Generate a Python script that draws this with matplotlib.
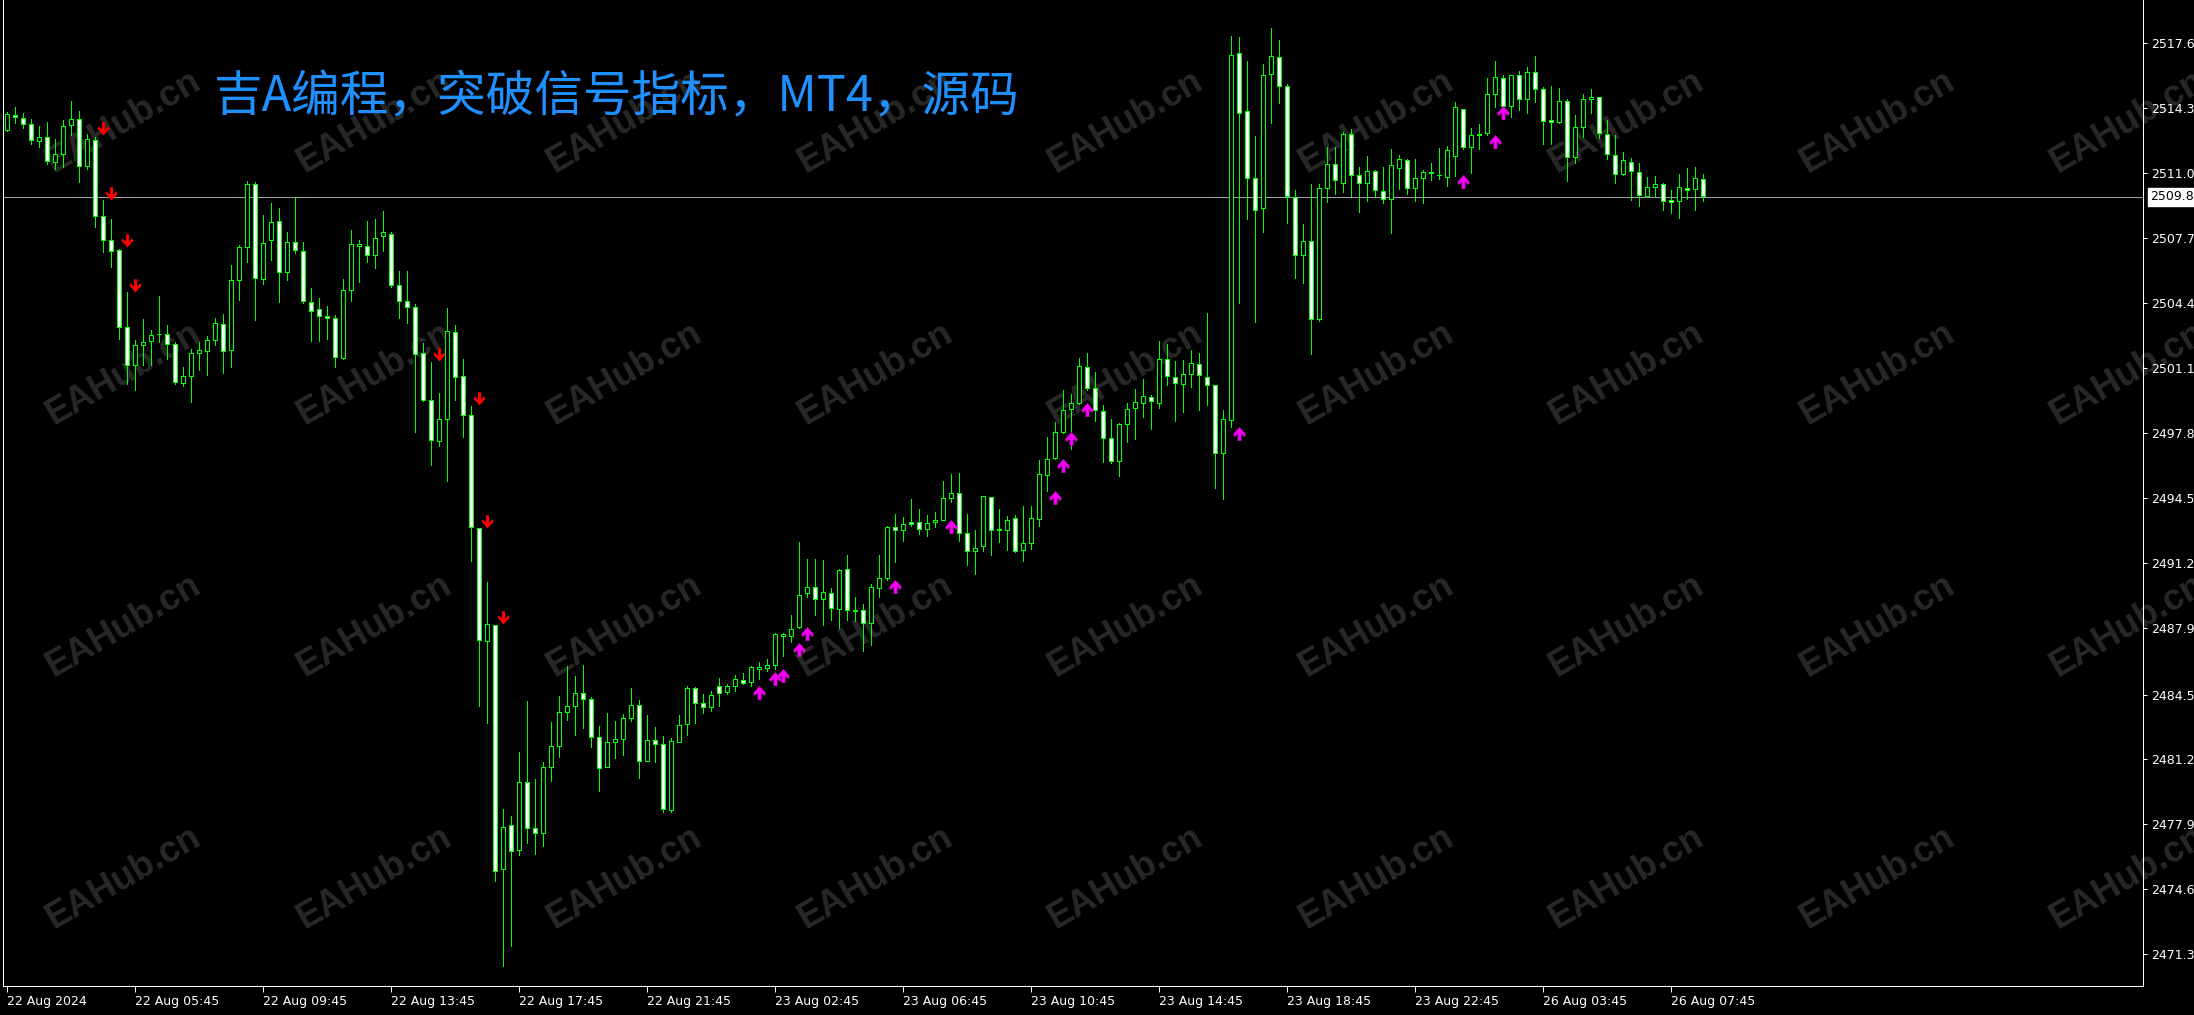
import matplotlib
matplotlib.use('Agg')
import matplotlib.pyplot as plt
import matplotlib.transforms as mtransforms
from matplotlib.path import Path
from matplotlib import font_manager
import numpy as np

# 15 minute candles, XAUUSD-like
opens = [2513.19, 2513.94, 2513.82, 2513.53, 2512.65, 2512.82, 2511.58, 2512.00, 2513.48, 2513.74,
         2511.38, 2512.68, 2508.85, 2507.59, 2507.09, 2503.18, 2501.23, 2502.28, 2502.47, 2502.82,
         2502.81, 2502.33, 2500.33, 2500.67, 2501.87, 2501.94, 2502.54, 2503.35, 2501.99, 2505.56,
         2507.26, 2510.43, 2505.64, 2507.63, 2508.58, 2505.98, 2507.51, 2507.05, 2504.45, 2504.11,
         2503.76, 2503.66, 2501.62, 2505.05, 2507.32, 2507.32, 2506.86, 2507.79, 2507.92, 2505.32,
         2504.49, 2504.21, 2501.87, 2499.48, 2497.38, 2498.52, 2502.91, 2500.70, 2498.70, 2492.96,
         2487.20, 2488.03, 2475.64, 2477.85, 2476.58, 2480.06, 2477.71, 2477.45, 2480.79, 2481.86,
         2483.59, 2483.90, 2484.57, 2484.27, 2482.32, 2480.79, 2482.10, 2482.23, 2483.29, 2483.96,
         2481.10, 2482.18, 2481.98, 2478.62, 2482.11, 2483.00, 2484.83, 2484.05, 2483.88, 2484.91,
         2484.61, 2484.91, 2485.25, 2485.12, 2485.80, 2485.83, 2486.00, 2487.49, 2487.49, 2487.92,
         2489.65, 2489.95, 2489.36, 2489.65, 2488.85, 2490.88, 2488.80, 2488.80, 2488.14, 2489.92,
         2490.43, 2493.01, 2492.87, 2493.26, 2493.26, 2492.92, 2493.26, 2493.38, 2494.50, 2494.75,
         2492.72, 2491.79, 2492.04, 2494.53, 2492.87, 2492.87, 2493.48, 2491.85, 2492.20, 2493.43,
         2495.67, 2496.53, 2497.84, 2499.03, 2499.30, 2501.15, 2500.08, 2498.91, 2497.55, 2496.35,
         2498.26, 2499.08, 2499.33, 2499.62, 2499.33, 2501.57, 2500.64, 2500.30, 2500.81, 2501.32,
         2500.64, 2500.25, 2496.79, 2498.48, 2517.09, 2514.16, 2510.78, 2509.21, 2516.03, 2516.89,
         2515.43, 2509.77, 2506.83, 2507.54, 2503.61, 2510.27, 2511.45, 2510.53, 2513.02, 2510.90,
         2510.53, 2511.12, 2510.11, 2509.71, 2511.29, 2511.70, 2510.27, 2510.78, 2511.00, 2510.89,
         2510.82, 2511.89, 2514.26, 2512.34, 2512.97, 2513.07, 2515.01, 2515.82, 2514.43, 2515.99,
         2514.80, 2516.13, 2515.31, 2513.70, 2513.60, 2514.65, 2511.85, 2513.33, 2514.77, 2514.90,
         2513.02, 2511.95, 2510.98, 2511.58, 2511.07, 2509.85, 2510.31, 2510.48, 2509.63, 2509.60,
         2510.27, 2510.19, 2510.73]
highs = [2514.13, 2514.38, 2514.04, 2513.74, 2513.40, 2513.60, 2512.73, 2513.70, 2514.67, 2514.16,
         2513.02, 2512.85, 2509.63, 2508.70, 2507.17, 2504.97, 2502.54, 2503.61, 2503.05, 2504.74,
         2503.27, 2502.42, 2501.15, 2502.08, 2502.42, 2502.71, 2503.64, 2503.86, 2506.32, 2507.34,
         2510.60, 2510.56, 2508.87, 2509.51, 2509.25, 2508.02, 2509.80, 2507.51, 2505.19, 2504.68,
         2504.24, 2503.78, 2505.64, 2508.10, 2507.63, 2508.57, 2508.67, 2509.09, 2508.00, 2506.03,
         2506.03, 2504.34, 2502.39, 2501.43, 2499.85, 2504.16, 2503.30, 2501.56, 2499.17, 2492.96,
         2490.24, 2488.03, 2478.66, 2478.32, 2481.57, 2484.16, 2480.20, 2481.05, 2483.12, 2484.44,
         2485.97, 2485.46, 2486.02, 2484.39, 2482.91, 2483.56, 2483.17, 2483.51, 2484.83, 2484.24,
         2483.47, 2482.86, 2482.40, 2482.27, 2483.47, 2484.95, 2484.86, 2484.52, 2484.69, 2485.34,
         2485.03, 2485.51, 2485.59, 2485.97, 2486.14, 2486.31, 2487.63, 2487.61, 2488.56, 2492.24,
         2491.39, 2491.39, 2491.34, 2489.92, 2490.88, 2491.60, 2489.48, 2489.11, 2490.12, 2491.60,
         2493.09, 2493.68, 2493.51, 2494.45, 2493.94, 2493.65, 2493.77, 2495.33, 2495.72, 2495.77,
         2493.68, 2492.84, 2494.57, 2494.53, 2493.94, 2493.60, 2493.65, 2494.06, 2494.06, 2496.40,
         2497.59, 2498.38, 2499.96, 2499.79, 2501.62, 2501.86, 2500.89, 2499.23, 2498.52, 2498.30,
         2499.30, 2500.04, 2500.55, 2499.71, 2502.45, 2502.30, 2501.44, 2501.49, 2502.00, 2501.88,
         2503.91, 2500.25, 2498.94, 2517.98, 2517.91, 2516.72, 2512.89, 2516.55, 2518.37, 2517.77,
         2515.53, 2510.17, 2508.41, 2510.48, 2510.44, 2512.34, 2512.34, 2513.11, 2513.23, 2511.33,
         2511.87, 2511.19, 2511.32, 2512.22, 2511.92, 2511.75, 2511.72, 2511.16, 2511.50, 2512.29,
         2512.38, 2514.62, 2514.26, 2513.28, 2513.53, 2515.86, 2516.70, 2515.99, 2515.99, 2516.20,
         2516.38, 2516.96, 2515.40, 2515.43, 2515.36, 2514.80, 2513.94, 2515.02, 2515.31, 2514.90,
         2513.70, 2512.97, 2512.06, 2511.80, 2511.50, 2510.82, 2510.85, 2510.53, 2510.14, 2510.95,
         2511.27, 2511.32, 2510.95]
lows = [2513.16, 2513.57, 2513.28, 2512.51, 2512.34, 2511.45, 2511.24, 2511.33, 2512.94, 2510.56,
        2511.24, 2508.27, 2507.00, 2506.24, 2502.59, 2500.30, 2499.99, 2501.23, 2501.23, 2502.42,
        2501.57, 2500.30, 2500.21, 2499.37, 2500.98, 2500.72, 2502.28, 2500.86, 2501.15, 2504.54,
        2506.49, 2503.55, 2505.39, 2506.61, 2504.46, 2505.56, 2506.95, 2504.40, 2502.47, 2502.45,
        2502.59, 2501.15, 2501.57, 2504.51, 2505.47, 2506.49, 2506.18, 2507.06, 2505.20, 2503.64,
        2503.38, 2497.85, 2499.43, 2496.19, 2497.15, 2495.33, 2499.48, 2497.61, 2491.28, 2483.90,
        2483.07, 2475.02, 2470.71, 2471.70, 2476.32, 2476.94, 2476.37, 2476.80, 2480.08, 2481.34,
        2483.20, 2482.45, 2482.78, 2481.81, 2479.61, 2480.79, 2481.27, 2481.44, 2483.17, 2480.28,
        2481.10, 2481.05, 2478.55, 2478.55, 2482.06, 2482.45, 2483.03, 2483.54, 2483.68, 2483.93,
        2484.52, 2484.66, 2485.03, 2484.91, 2485.29, 2485.71, 2485.80, 2486.47, 2487.15, 2487.88,
        2489.48, 2488.56, 2488.05, 2488.29, 2487.88, 2488.29, 2488.26, 2486.70, 2487.03, 2489.48,
        2490.33, 2491.22, 2492.28, 2493.09, 2492.67, 2492.58, 2493.01, 2493.35, 2494.31, 2492.33,
        2491.06, 2490.63, 2491.82, 2491.60, 2492.24, 2491.87, 2491.73, 2491.30, 2491.90, 2493.09,
        2494.87, 2496.48, 2497.79, 2496.99, 2499.25, 2499.96, 2498.43, 2496.31, 2496.28, 2495.63,
        2497.33, 2497.50, 2498.60, 2498.01, 2499.08, 2500.22, 2498.43, 2498.86, 2500.13, 2498.94,
        2499.23, 2495.01, 2494.45, 2498.09, 2504.41, 2508.66, 2503.44, 2508.02, 2513.57, 2514.55,
        2508.48, 2505.69, 2505.42, 2501.83, 2503.49, 2509.55, 2509.93, 2510.05, 2509.85, 2509.04,
        2509.58, 2509.80, 2509.49, 2507.97, 2510.22, 2509.94, 2509.60, 2509.49, 2510.68, 2510.73,
        2510.36, 2510.87, 2512.21, 2511.02, 2512.21, 2512.94, 2514.38, 2514.38, 2513.84, 2514.24,
        2514.04, 2514.63, 2512.51, 2512.51, 2513.57, 2510.61, 2511.50, 2512.85, 2514.04, 2512.80,
        2511.75, 2510.51, 2510.90, 2509.66, 2509.34, 2509.80, 2509.77, 2509.12, 2508.99, 2508.73,
        2509.71, 2509.12, 2509.58]
closes = [2513.99, 2513.84, 2513.53, 2512.68, 2512.82, 2511.61, 2512.00, 2513.41, 2513.74, 2511.36,
          2512.72, 2508.85, 2507.63, 2507.05, 2503.18, 2501.23, 2502.28, 2502.42, 2502.79, 2502.84,
          2502.33, 2500.38, 2500.67, 2501.87, 2501.99, 2502.54, 2503.40, 2501.94, 2505.59, 2507.26,
          2510.43, 2505.69, 2507.48, 2508.53, 2506.00, 2507.51, 2507.12, 2504.49, 2504.00, 2503.72,
          2503.66, 2501.65, 2505.08, 2507.39, 2507.42, 2506.86, 2507.71, 2508.00, 2505.32, 2504.52,
          2504.21, 2501.82, 2499.48, 2497.46, 2498.52, 2502.99, 2500.65, 2498.70, 2493.04, 2487.28,
          2488.06, 2475.54, 2477.75, 2476.55, 2480.06, 2477.72, 2477.45, 2480.83, 2481.90, 2483.62,
          2483.93, 2484.57, 2484.27, 2482.32, 2480.76, 2482.10, 2482.23, 2483.30, 2483.96, 2481.10,
          2482.18, 2481.98, 2478.67, 2482.15, 2482.95, 2484.83, 2484.07, 2483.88, 2484.47, 2484.57,
          2484.91, 2485.29, 2485.08, 2485.88, 2485.88, 2486.00, 2487.58, 2487.58, 2487.83, 2489.56,
          2489.95, 2489.36, 2489.70, 2488.88, 2490.83, 2488.82, 2488.77, 2488.14, 2489.95, 2490.43,
          2493.01, 2492.84, 2493.18, 2493.18, 2492.92, 2493.21, 2493.38, 2494.50, 2494.75, 2492.70,
          2491.79, 2491.95, 2494.57, 2492.87, 2492.89, 2493.38, 2491.82, 2492.20, 2493.48, 2495.72,
          2496.48, 2497.84, 2498.98, 2499.30, 2501.20, 2500.10, 2498.94, 2497.55, 2496.35, 2498.26,
          2499.03, 2499.37, 2499.69, 2499.40, 2501.57, 2500.67, 2500.35, 2500.81, 2501.37, 2500.72,
          2500.25, 2496.79, 2498.52, 2517.01, 2514.09, 2510.78, 2509.15, 2515.99, 2516.96, 2515.43,
          2509.83, 2506.83, 2507.54, 2503.61, 2510.27, 2511.45, 2510.65, 2513.02, 2510.90, 2510.53,
          2511.12, 2510.14, 2509.71, 2511.44, 2511.75, 2510.27, 2510.78, 2511.09, 2511.04, 2510.92,
          2512.17, 2514.35, 2512.34, 2512.97, 2513.01, 2515.01, 2515.87, 2514.43, 2515.99, 2514.80,
          2516.13, 2515.26, 2513.68, 2513.60, 2514.65, 2511.85, 2513.33, 2514.80, 2514.90, 2513.07,
          2511.97, 2510.98, 2511.67, 2511.11, 2509.89, 2510.31, 2510.43, 2509.58, 2509.55, 2510.31,
          2510.17, 2510.78, 2509.83]

# breakout signals: bar index and arrow tip price
down_bars = [12, 13, 15, 16, 54, 59, 60, 62]
down_tips = [2512.94, 2509.66, 2507.26, 2504.97, 2501.48, 2499.22, 2492.99, 2488.11]
up_bars = [94, 96, 97, 99, 100, 111, 118, 131, 132, 133, 135, 154, 182, 186, 187]
up_tips = [2484.91, 2485.63, 2485.80, 2487.10, 2487.92, 2490.33, 2493.35, 2494.84,
           2496.48, 2497.84, 2499.32, 2498.09, 2510.90, 2512.97, 2514.41]

price_ticks = [2517.6, 2514.3, 2511.0, 2507.7, 2504.4, 2501.1, 2497.8, 2494.5,
               2491.2, 2487.9, 2484.5, 2481.2, 2477.9, 2474.6, 2471.3]
time_tick_bars = [0, 16, 32, 48, 64, 80, 96, 112, 128, 144, 160, 176, 192, 208]
time_labels = ['22 Aug 2024', '22 Aug 05:45', '22 Aug 09:45', '22 Aug 13:45', '22 Aug 17:45',
               '22 Aug 21:45', '23 Aug 02:45', '23 Aug 06:45', '23 Aug 10:45', '23 Aug 14:45',
               '23 Aug 18:45', '23 Aug 22:45', '26 Aug 03:45', '26 Aug 07:45']
last_price = 2509.8
title = '吉A编程，突破信号指标，MT4，源码'

W, H = 2194, 1015
px = 72 / 100  # one pixel in points

fig = plt.figure(figsize=(W / 100, H / 100), dpi=100, facecolor='black')
ax = fig.add_axes([3 / W, 1 - 986 / H, (2143 - 3) / W, 986 / H])
ax.set_facecolor('black')

x = np.arange(len(opens))
o = np.array(opens)
hi = np.array(highs)
lo = np.array(lows)
c = np.array(closes)
bull = c >= o

ax.vlines(x, lo, hi, color='#00ff00', lw=px, zorder=3, antialiased=False)
ax.bar(x, np.abs(c - o), bottom=np.minimum(o, c), width=0.55,
       color=np.where(bull, 'black', 'white'), edgecolor='#00ff00',
       linewidth=px, zorder=4, antialiased=False)

ax.axhline(last_price, color='#9ea3ad', lw=px, zorder=2)

# arrow markers, tip at the data point
dn = Path([(-0.12, 1.0), (0.12, 1.0), (0.12, 0.45), (0.36, 0.68), (0.46, 0.52), (0, 0.0),
           (-0.46, 0.52), (-0.36, 0.68), (-0.12, 0.45), (-0.12, 1.0)])
upp = Path([(vx, -vy) for vx, vy in dn.vertices])
ax.plot(down_bars, down_tips, ls='none', marker=dn, markersize=19,
        color='#ff0000', mec='#ff0000', mew=0, zorder=5)
ax.plot(up_bars, up_tips, ls='none', marker=upp, markersize=19,
        color='#ff00ff', mec='#c000c0', mew=0.5, zorder=5)

ax.set_xlim(-0.5, 267)
ax.set_ylim(2469.68, 2519.81)

for side in ['left', 'right', 'bottom']:
    ax.spines[side].set_color('white')
    ax.spines[side].set_linewidth(px)
ax.spines['top'].set_visible(False)

ax.yaxis.tick_right()
ax.set_yticks(price_ticks)
ax.set_yticklabels(['%.1f' % v for v in price_ticks])
ax.tick_params(axis='y', colors='white', length=4 * px, width=px, labelsize=9, pad=3)

names = {f.name for f in font_manager.fontManager.ttflist}
if 'Liberation Sans Narrow' in names:
    xfont, xsize = 'Liberation Sans Narrow', 11.5
else:
    xfont, xsize = 'DejaVu Sans', 9
ax.set_xticks(time_tick_bars)
ax.set_xticklabels(time_labels, ha='left', family=xfont, fontsize=xsize)
ax.tick_params(axis='x', colors='white', length=6 * px, width=px, pad=2)

trans = mtransforms.blended_transform_factory(ax.transAxes, ax.transData)
ax.text(1.0035, last_price, '%.1f' % last_price, transform=trans, ha='left', va='center',
        fontsize=9, color='black', clip_on=False, zorder=6,
        bbox=dict(boxstyle='square,pad=0.2', fc='white', ec='white'))

# watermark grid
for cx in [124 + 250.5 * k for k in range(9)]:
    for cy in [122, 374, 626, 878]:
        ax.text(cx / W, 1 - cy / H, 'EAHub.cn', transform=fig.transFigure, rotation=30,
                rotation_mode='anchor', ha='center', va='center', fontsize=26,
                fontweight='bold', family=['Liberation Sans', 'DejaVu Sans'],
                color='#282828', zorder=1, clip_on=False)

fig.text(214 / W, 1 - 98 / H, title, fontsize=35, color='#1e90ff',
         family=['Noto Sans CJK SC', 'DejaVu Sans'], ha='left', va='center')

fig.savefig('out.png', dpi=100, facecolor='black')
